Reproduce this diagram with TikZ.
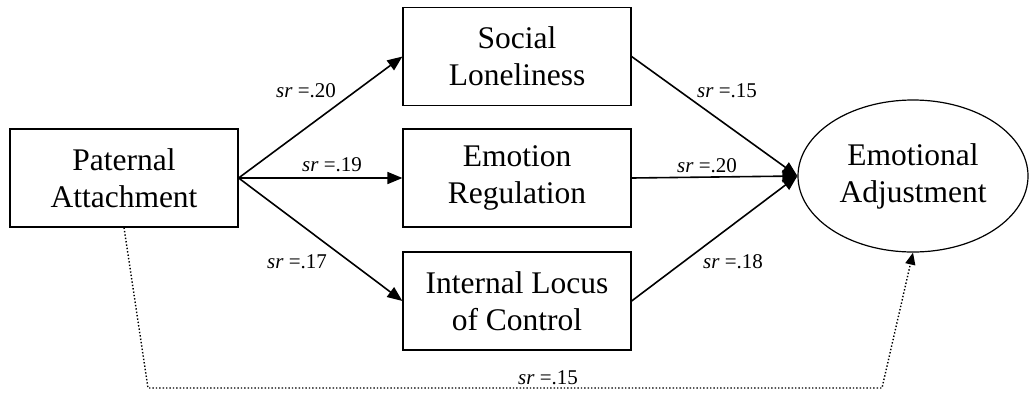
\documentclass[tikz,border=0pt]{standalone}
\usepackage{fontspec}
\setmainfont{Liberation Serif}
\usetikzlibrary{arrows.meta,shapes.geometric}

\tikzset{
  var/.style={draw,line width=1.2pt,minimum width=228pt,minimum height=98pt,
    inner sep=0pt,align=center,font=\fontsize{31.5}{37}\selectfont},
  outcome/.style={var,ellipse,minimum width=230pt,minimum height=152pt},
  coef/.style={font=\fontsize{21}{23}\selectfont,inner sep=0pt},
  path/.style={line width=1.6pt,->},
  direct/.style={line width=1.4pt,dotted,-{Triangle[length=12pt,width=10pt]}}
}
\newcommand{\sr}[1]{\textit{sr} =#1}

\begin{document}
\begin{tikzpicture}[x=1pt,y=-1pt,>={Triangle[length=15pt,width=12pt]}]
\useasboundingbox (0,0) rectangle (1030,392);
\node[var](pat)at(124,178){Paternal\\Attachment};
\node[var](soc)at(517,56.5){Social\\Loneliness};
\node[var](emo)at(517,178){Emotion\\Regulation};
\node[var](loc)at(517,301){Internal Locus\\of Control};
\node[outcome](adj)at(913,176){Emotional\\Adjustment};
\foreach \x in {soc,emo,loc}
{\draw[path](pat.east)--(\x.west);
\draw[path](\x.east)--(adj.west);}
\coordinate(bl)at(148,388);
\coordinate(br)at(882,388);
\draw[direct](pat.south)--(bl)--(br)--(adj.south);
\node[coef](c1)at(306,91){\sr{.20}};
\node[coef](c2)at(332,165){\sr{.19}};
\node[coef](c3)at(297,262){\sr{.17}};
\node[coef](c4)at(727,91){\sr{.15}};
\node[coef](c5)at(707,166){\sr{.20}};
\node[coef](c6)at(733,262){\sr{.18}};
\node[coef](c7)at(548,378){\sr{.15}};
\end{tikzpicture}
\end{document}
